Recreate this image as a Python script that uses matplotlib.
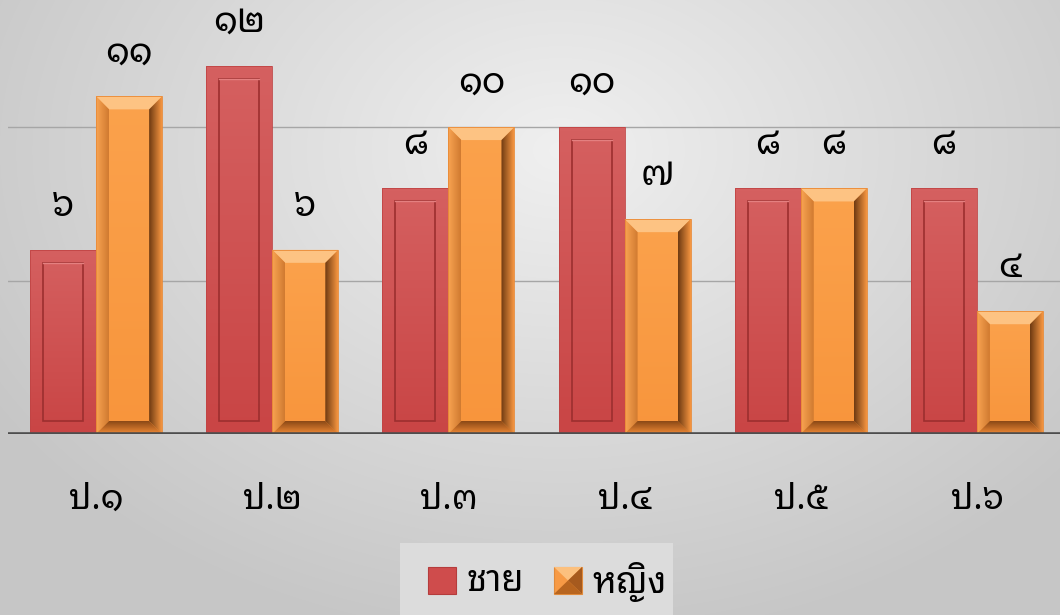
import numpy as np
import matplotlib
matplotlib.use('Agg')
import matplotlib.pyplot as plt
from matplotlib import font_manager
from matplotlib.patches import Polygon, Rectangle
from matplotlib.colors import LinearSegmentedColormap

# data
categories = ['ป.๑', 'ป.๒', 'ป.๓', 'ป.๔', 'ป.๕', 'ป.๖']
male = [6, 12, 8, 10, 8, 8]
female = [11, 6, 10, 7, 8, 4]
series_names = ['ชาย', 'หญิง']
thai_digits = '๐๑๒๓๔๕๖๗๘๙'


def to_thai(n):
    return ''.join(thai_digits[int(c)] for c in str(n))


# pick a thai font that is installed
names = set(f.name for f in font_manager.fontManager.ttflist)
thai_font = 'DejaVu Sans'
for cand in ['Noto Sans Thai Looped', 'IBM Plex Sans Thai Looped', 'Noto Sans Thai', 'Sarabun']:
    if cand in names:
        thai_font = cand
        break
plt.rcParams['font.family'] = [thai_font, 'DejaVu Sans']
plt.rcParams['font.weight'] = 'light'

W, H = 1060, 615
fig = plt.figure(figsize=(W / 100, H / 100), dpi=100)

# background gradient
bg = fig.add_axes([0, 0, 1, 1])
bg.axis('off')
yy, xx = np.mgrid[0:H, 0:W]
d = np.sqrt(((xx - 560) / 700.0) ** 2 + ((yy - 150) / 520.0) ** 2)
img = np.clip(0.94 - 0.17 * d, 0.78, 0.945)
bg.imshow(np.dstack([img] * 3), extent=[0, 1, 0, 1], aspect='auto', transform=bg.transAxes)
# legend box
bg.add_patch(Rectangle((400 / W, 0), 273 / W, 72 / H, transform=bg.transAxes,
                       facecolor='#dcdcdc', edgecolor='none'))

ax = fig.add_axes([8 / W, (H - 434) / H, 1057 / W, 434 / H])
ax.patch.set_alpha(0)
ax.set_xlim(-0.5, 5.5)
ax.set_ylim(0, 14.14)
for s in ax.spines.values():
    s.set_visible(False)
ax.set_xticks([])
ax.set_yticks([])
for g in [5, 10]:
    ax.axhline(g, color='#a6a6a6', lw=1.0, zorder=1)
ax.axhline(0, color='#4d4d4d', lw=2.6, zorder=5)

fig.canvas.draw()
p0 = ax.transData.transform((0, 0))
p1 = ax.transData.transform((1, 1))
ux = 1.0 / (p1[0] - p0[0])   # data units per pixel
uy = 1.0 / (p1[1] - p0[1])


def grad_fill(poly_xy, c1, c2, direction, z):
    # linear gradient clipped to a polygon, 'v' bottom->top, 'h' left->right
    poly = Polygon(poly_xy, closed=True, facecolor='none', edgecolor='none')
    ax.add_patch(poly)
    xs = [p[0] for p in poly_xy]
    ys = [p[1] for p in poly_xy]
    cmap = LinearSegmentedColormap.from_list('g', [c1, c2])
    if direction == 'v':
        arr = np.linspace(0, 1, 64).reshape(-1, 1)
    else:
        arr = np.linspace(0, 1, 64).reshape(1, -1)
    im = ax.imshow(arr, cmap=cmap, extent=[min(xs), max(xs), min(ys), max(ys)],
                   aspect='auto', origin='lower', zorder=z, interpolation='bilinear')
    im.set_clip_path(poly)


w = 0.375
bx = 13 * ux
by = 13 * uy

for i, v in enumerate(male):
    x0, x1 = i - w, i
    grad_fill([(x0, 0), (x1, 0), (x1, v), (x0, v)], '#c94545', '#d56060', 'v', 3)
    # inner panel outline
    ax.add_patch(Rectangle((x0 + bx, by), w - 2 * bx, v - 2 * by, facecolor='none',
                           edgecolor='#9c2f2f', lw=1.2, zorder=4))
    ax.plot([x0 + bx, x1 - bx], [v - by, v - by], color='#e48080', lw=1.0, zorder=4)
    ax.add_patch(Rectangle((x0, 0), w, v, facecolor='none', edgecolor='#c04444', lw=0.6, zorder=4))
    ax.annotate(to_thai(v), (i - w / 2, v), xytext=(0, 43), textcoords='offset pixels',
                ha='center', va='center', fontsize=26, color='black')

for i, v in enumerate(female):
    x0, x1 = i, i + w
    # face
    grad_fill([(x0, 0), (x1, 0), (x1, v), (x0, v)], '#f8953c', '#fba24c', 'v', 3)
    # top bevel (light)
    ax.add_patch(Polygon([(x0, v), (x1, v), (x1 - bx, v - by), (x0 + bx, v - by)],
                         facecolor='#fdc383', edgecolor='none', zorder=4))
    # left bevel
    grad_fill([(x0, 0), (x0 + bx, by), (x0 + bx, v - by), (x0, v)], '#f9a452', '#d07a30', 'h', 4)
    # right bevel (dark)
    grad_fill([(x1, 0), (x1, v), (x1 - bx, v - by), (x1 - bx, by)], '#6e3a12', '#f59540', 'h', 4)
    # bottom bevel (dark)
    grad_fill([(x0, 0), (x1, 0), (x1 - bx, by), (x0 + bx, by)], '#f08a36', '#8a4816', 'v', 4)
    ax.add_patch(Rectangle((x0, 0), w, v, facecolor='none', edgecolor='#e98a36', lw=0.6, zorder=4))
    ax.annotate(to_thai(v), (i + w / 2, v), xytext=(0, 43), textcoords='offset pixels',
                ha='center', va='center', fontsize=26, color='black')

for i, c in enumerate(categories):
    ax.annotate(c, (i, 0), xytext=(0, -66), textcoords='offset pixels',
                ha='center', va='center', fontsize=25, color='black', annotation_clip=False)

# legend
bg.add_patch(Rectangle((428 / W, (H - 594) / H), 28 / W, 27 / H, transform=bg.transAxes,
                       facecolor='#cf4c4c', edgecolor='#b53c3c', lw=0.8))
bg.text(466 / W, (H - 582) / H, series_names[0], transform=bg.transAxes,
        ha='left', va='center', fontsize=26)
lx, ly, lw_, lh = 554 / W, (H - 594) / H, 28 / W, 27 / H
bg.add_patch(Rectangle((lx, ly), lw_, lh, transform=bg.transAxes,
                       facecolor='#f79a45', edgecolor='#e08a3a', lw=0.8))
cx, cy = lx + lw_ / 2, ly + lh / 2
bg.add_patch(Polygon([(lx, ly + lh), (lx + lw_, ly + lh), (cx, cy)], transform=bg.transAxes,
                     facecolor='#fcc07e', edgecolor='none'))
bg.add_patch(Polygon([(lx + lw_, ly), (lx + lw_, ly + lh), (cx, cy)], transform=bg.transAxes,
                     facecolor='#a65a1e', edgecolor='none'))
bg.add_patch(Polygon([(lx, ly), (lx + lw_, ly), (cx, cy)], transform=bg.transAxes,
                     facecolor='#b8651f', edgecolor='none'))
bg.text(592 / W, (H - 582) / H, series_names[1], transform=bg.transAxes,
        ha='left', va='center', fontsize=26)

fig.savefig('out.png', dpi=100)
